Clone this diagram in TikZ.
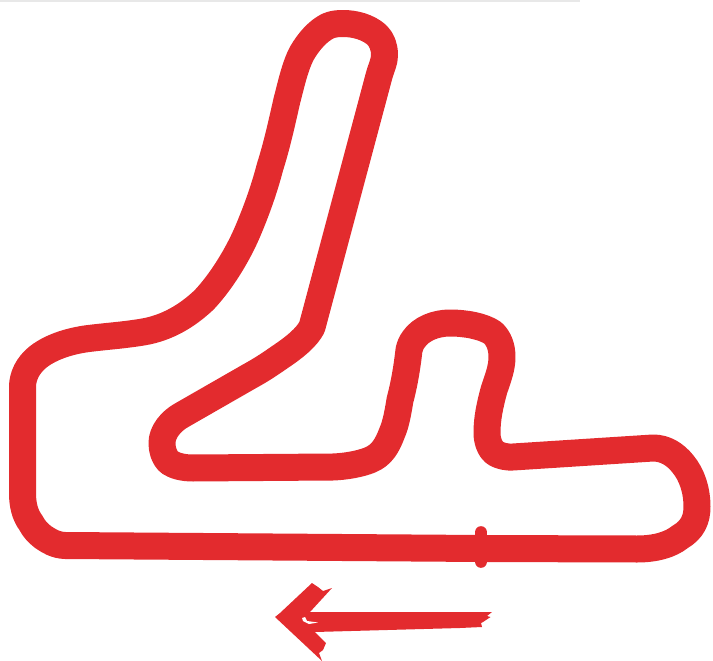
\documentclass[tikz,border=0pt]{standalone}
\usepackage{xcolor}
\definecolor{trackred}{RGB}{227,43,46}
\definecolor{stripgray}{RGB}{232,232,232}

\begin{document}
\begin{tikzpicture}[x=1pt, y=-1pt, track/.style={draw=trackred, line width=27pt, line join=round}]
  \useasboundingbox (0,0) rectangle (713,661);
  \fill[stripgray] (0,0) rectangle (580,2);
  % circuit outline
  \draw[track] (481,548.5) -- (637,549)
    .. controls (655,549) and (670,545) .. (680,537)
    .. controls (692,530) and (697,520) .. (697,507)
    .. controls (697,490) and (692,475) .. (683,464)
    .. controls (675,454) and (665,448) .. (653,448)
    -- (513,457)
    .. controls (507,457.5) and (500,456) .. (495,453)
    .. controls (490,449) and (487,441) .. (487,433)
    .. controls (487,418) and (490,405) .. (494,390)
    .. controls (498,378) and (502,368) .. (502,357)
    .. controls (502,347) and (499,339) .. (493,333)
    .. controls (483,326) and (465,323) .. (450,323)
    .. controls (435,323) and (421,329) .. (414,339)
    .. controls (411,343) and (410,346) .. (409,350)
    .. controls (407,368) and (404,385) .. (400,400)
    .. controls (398,412) and (396,424) .. (392,433)
    .. controls (387,446) and (382,455) .. (370,460)
    .. controls (360,464) and (346,466.5) .. (333,467)
    -- (193,468)
    .. controls (183,468) and (175,466) .. (169,462)
    .. controls (164,457) and (162,450) .. (162,443)
    .. controls (162,432) and (171,421) .. (182,415)
    -- (250,376)
    .. controls (261,370) and (270,364) .. (280,357)
    .. controls (295,347) and (307,337) .. (312,327)
    -- (379,76)
    .. controls (381.5,67) and (384.5,62) .. (384.5,55)
    .. controls (384.5,47) and (382,40) .. (377,35)
    .. controls (368,27) and (355,23.5) .. (343,23.5)
    .. controls (337,23.5) and (333,24) .. (328,26)
    .. controls (318,31) and (309,41) .. (302,53)
    .. controls (295,66) and (291,85) .. (287,100)
    .. controls (282,122) and (277,145) .. (270,167)
    .. controls (264,190) and (256,212) .. (247,233)
    .. controls (237,256) and (221,282) .. (204,300)
    .. controls (187,316) and (167,328) .. (143,332)
    .. controls (125,335) and (110,336) .. (93,338)
    .. controls (73,340) and (52,346) .. (38,357)
    .. controls (28,365) and (22.5,376) .. (22.5,387)
    -- (22.5,493)
    .. controls (22.5,505) and (25,515) .. (31,523)
    .. controls (34,529) and (38,533) .. (43,537)
    .. controls (49,541) and (55,545) .. (65,545.5)
    -- cycle;
  % start line
  \draw[trackred, line width=12.7pt, line cap=round] (481,532.5) -- (481,561.5);
  % direction arrow
  \fill[trackred] (275,617) -- (280,613) -- (312,583) -- (318,587) -- (323,591) -- (332,588) -- (310,612)
    -- (492,612) -- (487,616) -- (490.5,617) -- (483,622) -- (481,623) -- (482,627) -- (460,628)
    -- (315,632) -- (326,643) -- (323,650) -- (319,653) -- (322,661) -- cycle;
  \fill[white] (302,618) -- (305,617) -- (307,621) -- (318,622.5) -- (309,624) -- (303,621) -- cycle;
\end{tikzpicture}
\end{document}
